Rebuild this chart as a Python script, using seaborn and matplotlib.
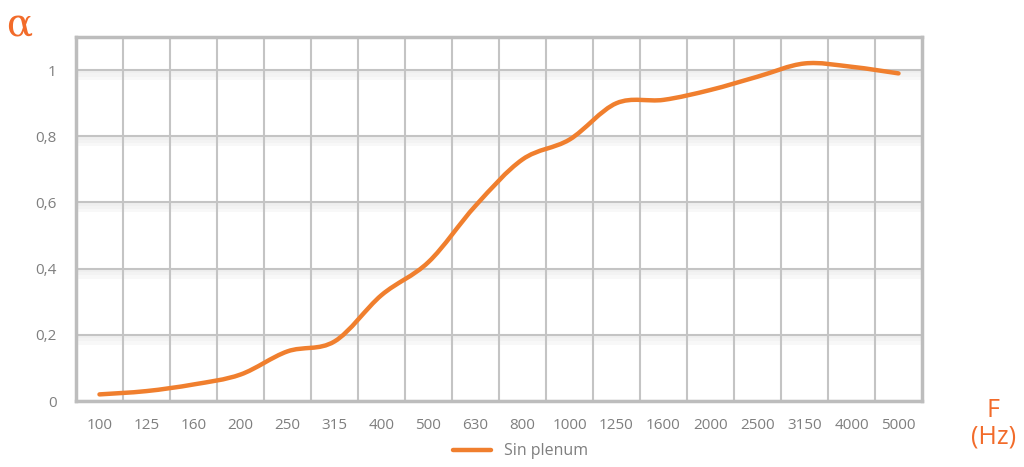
import matplotlib
matplotlib.use('Agg')
import matplotlib.pyplot as plt
import numpy as np
import seaborn as sns
from matplotlib.lines import Line2D
from matplotlib.path import Path
from matplotlib.patches import PathPatch

sns.set_style('white')
plt.rcParams['font.family'] = ['Open Sans', 'DejaVu Sans']

FREQ_LABELS = ['100', '125', '160', '200', '250', '315', '400', '500', '630',
               '800', '1000', '1250', '1600', '2000', '2500', '3150', '4000', '5000']
ALPHA_SIN_PLENUM = [0.02, 0.03, 0.05, 0.08, 0.15, 0.18, 0.32, 0.42, 0.59,
                    0.73, 0.79, 0.90, 0.91, 0.94, 0.98, 1.02, 1.01, 0.99]
Y_TICKS = [0, 0.2, 0.4, 0.6, 0.8, 1.0]
Y_TICK_LABELS = ['0', '0,2', '0,4', '0,6', '0,8', '1']

LINE_COLOR = '#F07F2E'
ACCENT = '#F26B2A'
GRID = '#C4C4C4'
TEXT_GRAY = '#7F7F7F'


def smooth_path(xs, ys):
    # Excel-style smoothed line: Catmull-Rom segments as cubic Bezier curves
    pts = np.column_stack([xs, ys]).astype(float)
    n = len(pts)
    verts = [pts[0]]
    codes = [Path.MOVETO]
    for i in range(n - 1):
        p0 = pts[max(i - 1, 0)]
        p1 = pts[i]
        p2 = pts[i + 1]
        p3 = pts[min(i + 2, n - 1)]
        verts += [p1 + (p2 - p0) / 6, p2 - (p3 - p1) / 6, p2]
        codes += [Path.CURVE4] * 3
    return Path(verts, codes)


fig = plt.figure(figsize=(10.24, 4.67), dpi=100)
ax = fig.add_axes([0.0742, 0.1413, 0.8262, 0.7795])

# soft shadow under each horizontal gridline
for y in Y_TICKS[1:]:
    for k, c in enumerate(['#F8F8F8', '#F3F3F3', '#EFEFEF']):
        ax.axhspan(y - 0.03 + k * 0.01, y, color=c, lw=0, zorder=0)

x_idx = np.arange(len(FREQ_LABELS))
sns.lineplot(x=x_idx, y=ALPHA_SIN_PLENUM, ax=ax, color=LINE_COLOR, lw=3.2,
             legend=False, zorder=3)
# swap the straight segments for a smoothed curve through the same points
ax.lines[0].set_visible(False)
ax.add_patch(PathPatch(smooth_path(x_idx, ALPHA_SIN_PLENUM), fill=False,
                       edgecolor=LINE_COLOR, lw=3.2, capstyle='round', zorder=3))

ax.set_xlim(-0.5, len(FREQ_LABELS) - 0.5)
ax.set_ylim(0, 1.1)
ax.set_xticks(x_idx)
ax.set_xticklabels(FREQ_LABELS)
ax.set_xticks(x_idx[:-1] + 0.5, minor=True)
ax.set_yticks(Y_TICKS)
ax.set_yticklabels(Y_TICK_LABELS)

ax.grid(axis='x', which='minor', color=GRID, lw=1.5, zorder=1)
ax.grid(axis='y', which='major', color=GRID, lw=1.5, zorder=1)
ax.set_axisbelow(True)
ax.tick_params(axis='both', which='both', length=0, colors=TEXT_GRAY, labelsize=11)
ax.tick_params(axis='x', pad=12)
ax.tick_params(axis='y', pad=14)
for s in ax.spines.values():
    s.set_color('#BDBDBD')
    s.set_linewidth(2.5)

handle = Line2D([], [], color=LINE_COLOR, lw=3.2)
fig.legend(handles=[handle], labels=['Sin plenum'], loc='center',
           bbox_to_anchor=(0.508, 0.034), frameon=False,
           handlelength=2.4, fontsize=11.5, labelcolor=TEXT_GRAY)

fig.text(0.006, 0.945, 'α', color=ACCENT, fontsize=28, family='DejaVu Serif',
         va='center', ha='left')
fig.text(0.970, 0.093, 'F\n(Hz)', color=ACCENT, fontsize=18, ha='center',
         va='center', linespacing=1.05)

fig.savefig('out.png', dpi=100)
